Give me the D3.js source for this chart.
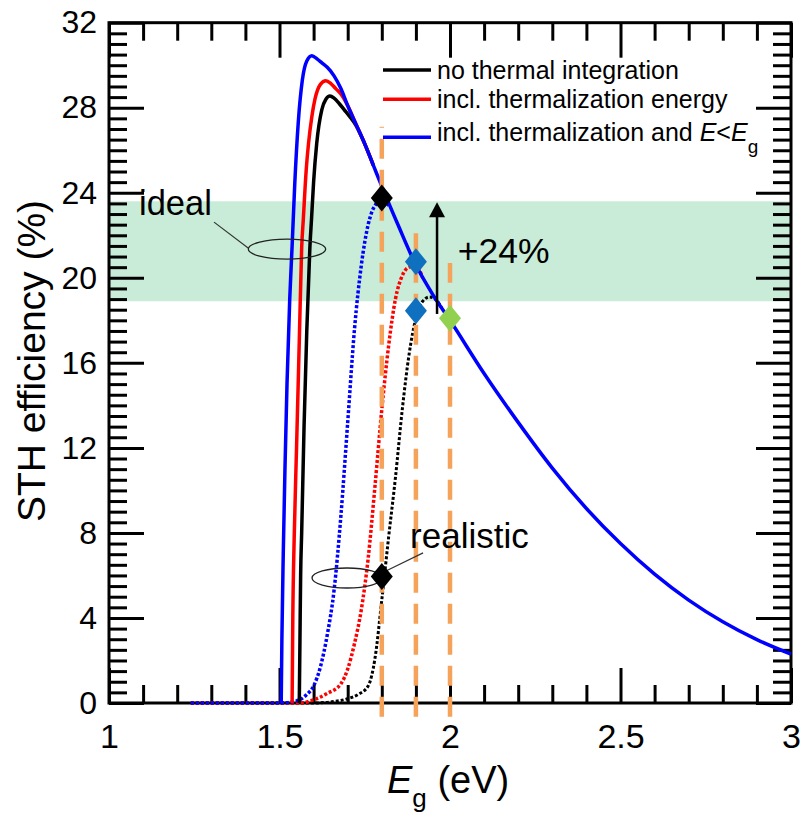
<!DOCTYPE html>
<html lang="en">
<head>
<meta charset="UTF-8">
<title>STH efficiency vs band gap</title>
<script src="https://cdn.jsdelivr.net/npm/d3@7/dist/d3.min.js"></script>
<style>
	body { margin: 0; background: #fff; }
	text { font-family: "Liberation Sans", Arial, sans-serif; fill: #000; }
</style>
</head>
<body>
<div id="chart"></div>
<script>
// solid curves (ideal), [Eg in eV, STH in %]
var noThermal = [[1.558,0],[1.560,3],[1.562,6],[1.565,8],[1.572,13],[1.580,17.5],[1.589,21.4],[1.594,22.8],
	[1.600,24.5],[1.609,26.3],[1.624,27.9],[1.636,28.4],[1.648,28.55],[1.660,28.45],[1.675,28.2],[1.690,27.9],
	[1.705,27.6],[1.725,27.15],[1.750,26.3],[1.775,25.3]];
var inclThermal = [[1.537,0],[1.539,4],[1.543,7.7],[1.550,12],[1.558,17],[1.565,21.4],[1.570,22.8],[1.578,25],
	[1.585,26.3],[1.595,27.6],[1.604,28.4],[1.620,29.1],[1.636,29.27],[1.650,29.15],[1.665,28.9],[1.680,28.65],
	[1.700,28.1],[1.725,27.2],[1.750,26.3],[1.775,25.3]];
var inclBelowGap = [[1.505,0],[1.507,3],[1.511,7],[1.516,11],[1.522,15],[1.530,19],[1.537,21.5],[1.545,24.5],
	[1.555,27.3],[1.567,29.3],[1.580,30.2],[1.595,30.45],[1.610,30.3],[1.625,30.1],[1.640,29.9],[1.660,29.5],
	[1.680,28.9],[1.700,28.1],[1.725,27.2],[1.750,26.3],[1.775,25.3],[1.800,24.3],[1.850,22.4],[1.900,20.6],
	[1.950,19.2],[2.000,18.0],[2.100,15.5],[2.200,13.2],[2.300,11.05],[2.400,9.15],[2.500,7.5],[2.600,6.06],
	[2.700,4.84],[2.800,3.82],[2.900,2.98],[3.000,2.3]];

// dotted curves (realistic)
var noThermalReal = [[1.24,0],[1.60,0],[1.65,0.05],[1.70,0.2],[1.73,0.4],[1.76,0.8],[1.78,2.1],[1.80,4.85],
	[1.82,7.8],[1.84,10.6],[1.86,13.8],[1.88,16.4],[1.90,18.1],[1.92,18.9],[1.94,19.1],[1.96,18.95],[1.975,18.6]];
var inclThermalReal = [[1.24,0],[1.56,0],[1.60,0.15],[1.64,0.45],[1.68,0.9],[1.70,1.6],[1.72,2.8],[1.74,4.4],
	[1.76,6.8],[1.78,10.2],[1.80,13.8],[1.82,16.8],[1.84,19.0],[1.86,20.1],[1.88,20.5],[1.90,20.55],[1.92,20.0]];
var inclBelowGapReal = [[1.24,0],[1.50,0],[1.55,0.1],[1.58,0.4],[1.60,0.8],[1.62,1.7],[1.64,3.2],[1.66,5.3],
	[1.68,8.8],[1.70,13.2],[1.72,17.6],[1.74,20.6],[1.76,22.5],[1.78,23.4],[1.80,23.65],[1.82,23.4]];

var seriesNames = ["no thermal integration", "incl. thermalization energy", "incl. thermalization and "];
var seriesColors = ["#000000", "#ff0000", "#0000ff"];

var xTicks = [1, 1.5, 2, 2.5, 3];
var yTicks = [0, 4, 8, 12, 16, 20, 24, 28, 32];

// diamonds: Eg, STH, colour
var markerX = [1.8, 1.9, 1.9, 2.0, 1.8];
var markerY = [23.75, 20.76, 18.45, 18.1, 5.95];
var markerColors = ["#000000", "#1070c0", "#1070c0", "#92d050", "#000000"];

// orange guide lines: Eg and top
var guideX = [1.8, 1.9, 2.0];
var guideTop = [27.1, 22.1, 20.7];

var idealBand = [18.9, 23.6];

var W = 802, H = 818;
var svg = d3.select("#chart").append("svg").attr("width", W).attr("height", H);

var x = d3.scaleLinear().domain([1, 3]).range([109, 791]);
var y = d3.scaleLinear().domain([0, 32]).range([703, 22.7]);

// green band of ideal values
svg.append("rect")
	.attr("x", x(1)).attr("y", y(idealBand[1]))
	.attr("width", x(3) - x(1)).attr("height", y(idealBand[0]) - y(idealBand[1]))
	.attr("fill", "#c8ecd7");

// axes, ticks point inwards
var minorX = d3.range(1, 3.001, 0.1).filter(function(v){ return Math.abs(v*2 - Math.round(v*2)) > 0.01; });
var minorY = d3.range(0, 32.001, 0.5).filter(function(v){ return v % 4 !== 0; });

function addAxis(axis, tx, ty){
	var g = svg.append("g").attr("transform", "translate(" + tx + "," + ty + ")").call(axis);
	g.select(".domain").remove();
	g.selectAll(".tick line").attr("stroke-width", 3);
	return g;
}
var gx = addAxis(d3.axisBottom(x).tickValues(xTicks).tickSize(-35).tickPadding(21).tickFormat(d3.format("")), 0, y(0));
gx.selectAll("text").attr("font-size", 34);
addAxis(d3.axisBottom(x).tickValues(minorX).tickSize(-18).tickFormat(""), 0, y(0));
addAxis(d3.axisTop(x).tickValues(xTicks).tickSize(-35).tickFormat(""), 0, y(32));
addAxis(d3.axisTop(x).tickValues(minorX).tickSize(-18).tickFormat(""), 0, y(32));
var gy = addAxis(d3.axisLeft(y).tickValues(yTicks).tickSize(-35).tickPadding(12), x(1), 0);
gy.selectAll("text").attr("font-size", 32).attr("font-family", "Liberation Sans, Arial, sans-serif");
addAxis(d3.axisLeft(y).tickValues(minorY).tickSize(-18).tickFormat(""), x(1), 0);
addAxis(d3.axisRight(y).tickValues(yTicks).tickSize(-35).tickFormat(""), x(3), 0);
addAxis(d3.axisRight(y).tickValues(minorY).tickSize(-18).tickFormat(""), x(3), 0);
gx.selectAll("text").attr("font-family", "Liberation Sans, Arial, sans-serif");

svg.append("rect")
	.attr("x", x(1)).attr("y", y(32)).attr("width", x(3) - x(1)).attr("height", y(0) - y(32))
	.attr("fill", "none").attr("stroke", "#000").attr("stroke-width", 3);

var line = d3.line()
	.x(function(d){ return x(d[0]); })
	.y(function(d){ return y(d[1]); })
	.curve(d3.curveMonotoneX);

// dotted realistic curves
[noThermalReal, inclThermalReal, inclBelowGapReal].forEach(function(s, i){
	svg.append("path").datum(s)
		.attr("d", line).attr("fill", "none")
		.attr("stroke", seriesColors[i])
		.attr("stroke-width", i == 0 ? 3 : 3.5)
		.attr("stroke-dasharray", "3,2");
});

// solid ideal curves
[noThermal, inclThermal, inclBelowGap].forEach(function(s, i){
	svg.append("path").datum(s)
		.attr("d", line).attr("fill", "none")
		.attr("stroke", seriesColors[i]).attr("stroke-width", 3.5)
		.attr("stroke-linejoin", "round");
});

// orange dashed guides
guideX.forEach(function(v, i){
	svg.append("line")
		.attr("x1", x(v)).attr("x2", x(v))
		.attr("y1", y(-0.65)).attr("y2", y(guideTop[i]))
		.attr("stroke", "#f5a35a").attr("stroke-width", 4.5)
		.attr("stroke-dasharray", "20,11");
});

// annotations
svg.append("ellipse").attr("cx", x(1.522)).attr("cy", y(21.35)).attr("rx", 38.7).attr("ry", 10)
	.attr("fill", "none").attr("stroke", "#222").attr("stroke-width", 1.3);
svg.append("line").attr("x1", x(1.308)).attr("y1", y(22.62)).attr("x2", x(1.408)).attr("y2", y(21.4))
	.attr("stroke", "#333").attr("stroke-width", 1.2);
svg.append("text").attr("x", x(1.088)).attr("y", y(22.95)).attr("font-size", 34.5).text("ideal");

svg.append("ellipse").attr("cx", x(1.698)).attr("cy", y(5.88)).attr("rx", 35).attr("ry", 10)
	.attr("fill", "none").attr("stroke", "#222").attr("stroke-width", 1.3);
svg.append("line").attr("x1", x(1.812)).attr("y1", y(6.21)).attr("x2", x(1.921)).attr("y2", y(7.06))
	.attr("stroke", "#333").attr("stroke-width", 1.2);
svg.append("text").attr("x", x(1.883)).attr("y", y(7.29)).attr("font-size", 35).text("realistic");

// +24% arrow
var ax = x(1.962);
svg.append("line").attr("x1", ax).attr("x2", ax).attr("y1", y(18.3)).attr("y2", y(22.9))
	.attr("stroke", "#000").attr("stroke-width", 2.5);
svg.append("path")
	.attr("d", "M" + ax + "," + y(23.55) + "L" + (ax + 8) + "," + (y(23.55) + 15) + "L" + (ax - 8) + "," + (y(23.55) + 15) + "Z")
	.attr("fill", "#000");
svg.append("text").attr("x", x(2.023)).attr("y", y(20.7)).attr("font-size", 35.5).text("+24%");

// diamonds
markerX.forEach(function(v, i){
	var cx = x(v), cy = y(markerY[i]);
	svg.append("path")
		.attr("d", "M" + cx + "," + (cy - 13.5) + "L" + (cx + 11) + "," + cy + "L" + cx + "," + (cy + 13.5) + "L" + (cx - 11) + "," + cy + "Z")
		.attr("fill", markerColors[i]);
});

// legend
var legendLineY = [70, 99.3, 137.3];
var legendTextY = [78.5, 108.3, 140.7];
seriesNames.forEach(function(name, i){
	svg.append("line").attr("x1", 383).attr("x2", 431)
		.attr("y1", legendLineY[i]).attr("y2", legendLineY[i])
		.attr("stroke", seriesColors[i]).attr("stroke-width", 3.5);
	var t = svg.append("text").attr("x", 437).attr("y", legendTextY[i]).attr("font-size", 25).text(name);
	if (i == 2) {
		t.text(null);
		t.append("tspan").text(name);
		t.append("tspan").attr("font-style", "italic").text("E");
		t.append("tspan").text("<");
		t.append("tspan").attr("font-style", "italic").text("E");
		t.append("tspan").attr("font-size", 19).attr("dy", 12).text("g");
	}
});

// axis titles
var xt = svg.append("text").attr("x", 387).attr("y", 793).attr("font-size", 38);
xt.append("tspan").attr("font-style", "italic").text("E");
xt.append("tspan").attr("font-size", 26).attr("dy", 14).text("g");
xt.append("tspan").attr("dy", -14).text(" (eV)");

svg.append("text")
	.attr("transform", "translate(45,361) rotate(-90)")
	.attr("text-anchor", "middle").attr("font-size", 39)
	.text("STH efficiency (%)");
</script>
</body>
</html>
